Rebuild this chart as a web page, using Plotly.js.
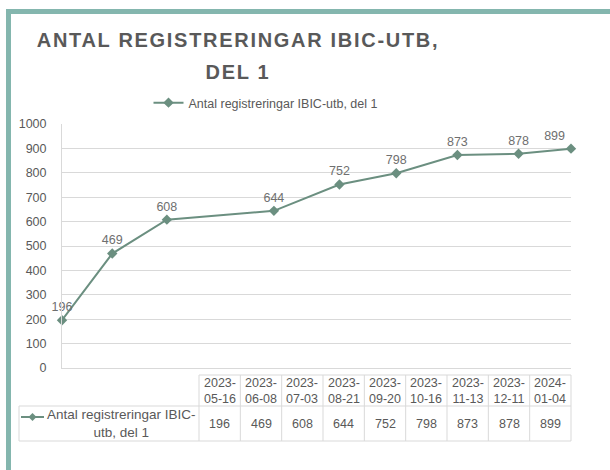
<!DOCTYPE html>
<html><head><meta charset="utf-8">
<script src="https://cdn.plot.ly/plotly-3.0.1.min.js"></script>
<style>
html,body{margin:0;padding:0;background:#fff}
#chart{width:610px;height:470px}
.gtitle{letter-spacing:1.7px}
</style>
</head><body><div id="chart"></div>
<script>
// ---- data ----
const dates = ['2023-05-16','2023-06-08','2023-07-03','2023-08-21','2023-09-20','2023-10-16','2023-11-13','2023-12-11','2024-01-04'];
const tableHeaders = ['2023-<br>05-16','2023-<br>06-08','2023-<br>07-03','2023-<br>08-21','2023-<br>09-20','2023-<br>10-16','2023-<br>11-13','2023-<br>12-11','2024-<br>01-04'];
const values = [196,469,608,644,752,798,873,878,899];
const seriesName = 'Antal registreringar IBIC-utb, del 1';
const tableRowLabel = 'Antal registreringar IBIC-<br>utb, del 1';
const titleText = 'ANTAL REGISTRERINGAR IBIC-UTB,<br>DEL 1';
const yTicks = [0,100,200,300,400,500,600,700,800,900,1000];

// ---- geometry (pixels) ----
const W = 610, H = 470;
const L = 62, R = 571, T = 124, B = 368;
const px = x => (x - L) / (R - L);
const py = y => (B - y) / (B - T);

const lineColor = '#6b8f80';
const gridColor = '#d9d9d9';
const textColor = '#595959';
const font = 'Liberation Sans, Arial, sans-serif';

const trace = {
  type: 'scatter', mode: 'lines+markers+text',
  x: dates, y: values, name: seriesName,
  text: values.map(String),
  textposition: values.map((v, i) => i === values.length - 1 ? 'top left' : 'top center'),
  textfont: {family: font, size: 12.5, color: '#6f6f6f'},
  line: {color: lineColor, width: 2},
  marker: {symbol: 'diamond', size: 8, color: lineColor},
  cliponaxis: false
};

// data table
const colL = 199, colR = 571, nCol = dates.length, colW = (colR - colL) / nCol;
const hTop = 375, hBot = 406, dBot = 441, labL = 19;
const shapes = [];
const ann = [];
const lineStyle = {color: gridColor, width: 1};
function seg(x0,y0,x1,y1){shapes.push({type:'line',xref:'paper',yref:'paper',x0:px(x0),y0:py(y0),x1:px(x1),y1:py(y1),line:lineStyle});}
seg(colL,hTop,colR,hTop);
seg(labL,hBot,colR,hBot);
seg(labL,dBot,colR,dBot);
seg(labL,hBot,labL,dBot);
for (let i = 0; i <= nCol; i++) { const x = colL + i*colW; seg(x,hTop,x,dBot); }
tableHeaders.forEach((h,i) => {
  ann.push({xref:'paper',yref:'paper',x:px(colL+(i+0.5)*colW),y:py((hTop+hBot)/2),text:h,showarrow:false,
    font:{family:font,size:12.5,color:textColor},xanchor:'center',yanchor:'middle'});
});
values.forEach((v,i) => {
  ann.push({xref:'paper',yref:'paper',x:px(colL+(i+0.5)*colW),y:py((hBot+dBot)/2),text:String(v),showarrow:false,
    font:{family:font,size:12.5,color:textColor},xanchor:'center',yanchor:'middle'});
});
ann.push({xref:'paper',yref:'paper',x:px(121),y:py((hBot+dBot)/2),text:tableRowLabel,showarrow:false,
  font:{family:font,size:13.5,color:textColor},xanchor:'center',yanchor:'middle',align:'center'});
// legend key in table
const ky = 417;
shapes.push({type:'line',xref:'paper',yref:'paper',x0:px(21),y0:py(ky),x1:px(44),y1:py(ky),line:{color:lineColor,width:2}});
const kx = 32.5, d = 4;
shapes.push({type:'path',xref:'paper',yref:'paper',fillcolor:lineColor,line:{width:0},
  path:`M ${px(kx-d)},${py(ky)} L ${px(kx)},${py(ky-d)} L ${px(kx+d)},${py(ky)} L ${px(kx)},${py(ky+d)} Z`});

// teal frame
const frame = '#84b6ae';
shapes.push({type:'rect',xref:'paper',yref:'paper',x0:px(6),x1:px(11),y0:py(9),y1:py(H+5),fillcolor:frame,line:{width:0},layer:'above'});
shapes.push({type:'rect',xref:'paper',yref:'paper',x0:px(6),x1:px(W+5),y0:py(9),y1:py(14),fillcolor:frame,line:{width:0},layer:'above'});

const layout = {
  width: W, height: H,
  margin: {l: L, r: W - R, t: T, b: H - B, pad: 0},
  paper_bgcolor: '#fff', plot_bgcolor: '#fff',
  font: {family: font, size: 12, color: textColor},
  title: {text: titleText, font: {family: font, size: 20, weight: 'bold', color: textColor},
    xref: 'container', x: 238 / W, xanchor: 'center', yref: 'container', y: 1 - 47 / H, yanchor: 'top'},
  showlegend: true,
  legend: {orientation: 'h', x: px(266), xanchor: 'center', y: py(103), yanchor: 'middle',
    font: {family: font, size: 12.5, color: textColor}, bgcolor: 'rgba(0,0,0,0)', itemwidth: 30},
  xaxis: {type: 'date', range: [dates[0], dates[dates.length-1]], showgrid: false, zeroline: false,
    showticklabels: false, ticks: '', showline: true, linecolor: gridColor, linewidth: 1, fixedrange: true},
  yaxis: {range: [0, 1000], tickvals: yTicks, showgrid: true, gridcolor: gridColor, gridwidth: 1, zeroline: false,
    showline: true, linecolor: gridColor, ticks: 'outside', ticklen: 12, tickcolor: 'rgba(0,0,0,0)',
    tickfont: {family: font, size: 12.5, color: textColor}, fixedrange: true},
  shapes: shapes, annotations: ann
};

Plotly.newPlot('chart', [trace], layout, {displayModeBar: false, staticPlot: true}).then(gd => {
  // widen the spacing between the two title lines
  gd.querySelectorAll('.gtitle tspan.line').forEach((t, i) => { if (i > 0) t.setAttribute('dy', '1.6em'); });
});
</script>
</body></html>
